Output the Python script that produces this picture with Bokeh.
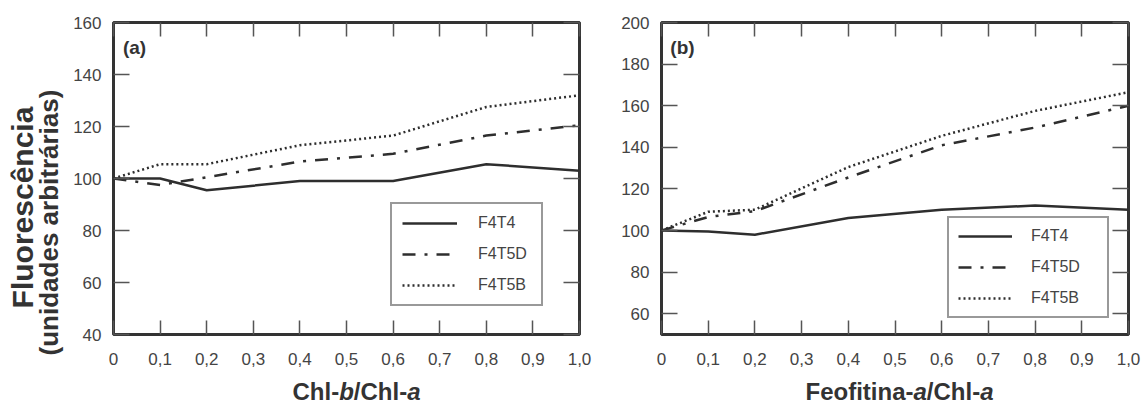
import numpy as np
from bokeh.plotting import figure
from bokeh.models import (FixedTicker, LinearAxis, Range1d, Legend, LegendItem, Label)
from bokeh.layouts import row, column
from bokeh.embed import file_html
from bokeh.resources import INLINE

# ---- data ----
x_vals = [0.0, 0.1, 0.2, 0.4, 0.6, 0.8, 1.0]
series_names = ["F4T4", "F4T5D", "F4T5B"]

a_f4t4 = [100, 100, 95.5, 99, 99, 105.5, 103]
a_f4t5d = [100, 97.5, 100.5, 106.5, 109.5, 116.5, 120.5]
a_f4t5b = [100, 105.5, 105.5, 112.8, 116.5, 127.5, 132]

b_f4t4 = [100, 99.5, 98, 106, 110, 112, 110]
b_f4t5d = [100, 106.5, 109.3, 125.5, 141, 149.5, 160]
b_f4t5b = [100, 109, 110, 130.5, 145.5, 157.5, 166.5]

x_ticks = [0.0, 0.1, 0.2, 0.3, 0.4, 0.5, 0.6, 0.7, 0.8, 0.9, 1.0]
x_tick_labels = ["0", "0,1", "0,2", "0,3", "0,4", "0,5", "0,6", "0,7", "0,8", "0,9", "1,0"]
a_y_ticks = [40, 60, 80, 100, 120, 140, 160]
b_y_ticks = [60, 80, 100, 120, 140, 160, 180, 200]

y_title_lines = ["Fluorescência", "(unidades arbitrárias)"]
a_x_title = [("Chl-", "bold"), ("b", "bold italic"), ("/Chl-", "bold"), ("a", "bold italic")]
b_x_title = [("Feofitina-", "bold"), ("a", "bold italic"), ("/Chl-", "bold"), ("a", "bold italic")]

FONT = "Liberation Sans"
DARK = "#2e2e2e"
TICKC = "#555555"
LABC = "#444444"
TITLEC = "#333333"

YT_W = 70
PA_W = 530
PB_W = 545
PLOT_H = 374
XT_H = 406 - PLOT_H


def text_fig(width, height):
    f = figure(width=width, height=height, x_range=Range1d(0, 1), y_range=Range1d(0, 1),
               output_backend="svg", toolbar_location=None,
               x_axis_location=None, y_axis_location=None,
               min_border_left=0, min_border_right=0, min_border_top=0, min_border_bottom=0)
    f.xgrid.visible = False
    f.ygrid.visible = False
    f.outline_line_color = None
    f.background_fill_color = "white"
    f.border_fill_color = "white"
    return f


def make_panel(width, bl, br, yr, yticks, ys, tag, legend_loc, legend_pad, label_standoff, glyph_w, label_w):
    p = figure(width=width, height=PLOT_H, x_range=Range1d(0, 1), y_range=Range1d(*yr),
               output_backend="svg", toolbar_location=None,
               min_border_left=bl, min_border_right=br, min_border_top=22, min_border_bottom=PLOT_H - 334)
    p.xgrid.visible = False
    p.ygrid.visible = False
    p.outline_line_color = "#333333"
    p.outline_line_width = 3
    p.background_fill_color = "white"
    p.border_fill_color = "white"

    xa = p.xaxis[0]
    xa.ticker = FixedTicker(ticks=x_ticks, minor_ticks=[])
    xa.major_label_overrides = {t: l for t, l in zip(x_ticks, x_tick_labels)}
    xa.major_tick_in = 14
    xa.major_tick_out = 0
    xa.major_label_standoff = 18
    ya = p.yaxis[0]
    ya.ticker = FixedTicker(ticks=yticks, minor_ticks=[])
    ya.major_tick_in = 16
    ya.major_tick_out = 0
    ya.major_label_standoff = 12
    for ax in (xa, ya):
        ax.axis_line_color = None
        ax.major_tick_line_color = TICKC
        ax.major_tick_line_width = 1.5
        ax.minor_tick_line_color = None
        ax.major_label_text_font = FONT
        ax.major_label_text_font_size = "17px"
        ax.major_label_text_color = LABC

    top = LinearAxis(ticker=FixedTicker(ticks=x_ticks, minor_ticks=[]), major_tick_in=14, major_tick_out=0,
                     major_label_text_color=None, major_label_standoff=0,
                     axis_line_color=None, major_tick_line_color=TICKC, major_tick_line_width=1.5,
                     minor_tick_line_color=None)
    right = LinearAxis(ticker=FixedTicker(ticks=yticks, minor_ticks=[]), major_tick_in=16, major_tick_out=0,
                       major_label_text_color=None, major_label_standoff=0,
                       axis_line_color=None, major_tick_line_color=TICKC, major_tick_line_width=1.5,
                       minor_tick_line_color=None)
    p.add_layout(top, "above")
    p.add_layout(right, "right")

    r1 = p.line(x_vals, ys[0], line_color=DARK, line_width=2.5)
    r2 = p.line(x_vals, ys[1], line_color=DARK, line_width=2.5, line_dash="13 9 3 9")
    r3 = p.line(x_vals, ys[2], line_color=DARK, line_width=2.5, line_dash="2 3")

    items = [LegendItem(label=n, renderers=[r]) for n, r in zip(series_names, (r1, r2, r3))]
    legend = Legend(items=items, location=legend_loc, orientation="vertical",
                    padding=legend_pad, spacing=13, glyph_width=glyph_w, glyph_height=18,
                    label_standoff=label_standoff, label_width=label_w, label_height=18,
                    label_text_font=FONT, label_text_font_size="16px", label_text_color=LABC,
                    border_line_color="#333333", border_line_width=2.5,
                    background_fill_color="white", background_fill_alpha=1.0, margin=0)
    p.add_layout(legend)

    p.add_layout(Label(x=21, y=287, x_units="screen", y_units="screen", text=tag,
                       text_font=FONT, text_font_style="bold", text_font_size="19px",
                       text_color=TITLEC, text_align="center", text_baseline="middle"))
    return p


# widths at bold (Arial metrics), em units
CHARW = {"C": 0.722, "h": 0.611, "l": 0.278, "-": 0.333, "b": 0.611, "/": 0.278, "a": 0.556,
         "F": 0.611, "e": 0.556, "o": 0.611, "f": 0.333, "i": 0.278, "t": 0.333, "n": 0.611}


def x_title_fig(width, start, parts, size=24):
    f = text_fig(width, XT_H)
    x = start
    for txt, style in parts:
        f.add_layout(Label(x=x, y=15, x_units="screen", y_units="screen", text=txt,
                           text_font=FONT, text_font_style=style, text_font_size=f"{size}px",
                           text_color=TITLEC, text_align="left", text_baseline="alphabetic"))
        x += sum(CHARW[c] for c in txt) * size
    return f


pa = make_panel(PA_W, 112 - YT_W, 21, (40, 160), a_y_ticks, (a_f4t4, a_f4t5d, a_f4t5b), "(a)",
                (277, 28), 10, 21, 55, 53)
pb = make_panel(PB_W, 61, 17, (50, 200), b_y_ticks, (b_f4t4, b_f4t5d, b_f4t5b), "(b)",
                (286, 16), 9, 19, 54, 67)

xa_fig = x_title_fig(PA_W, 292 - YT_W, a_x_title)
xb_fig = x_title_fig(PB_W, 805 - 600, b_x_title)

yt = text_fig(YT_W, 406)
yt.add_layout(Label(x=22, y=406 - 207, x_units="screen", y_units="screen", text=y_title_lines[0],
                    text_font=FONT, text_font_style="bold", text_font_size="30px",
                    text_color=TITLEC, text_align="center", text_baseline="middle", angle=np.pi / 2))
yt.add_layout(Label(x=48, y=406 - 222, x_units="screen", y_units="screen", text=y_title_lines[1],
                    text_font=FONT, text_font_style="bold", text_font_size="26px",
                    text_color=TITLEC, text_align="center", text_baseline="middle", angle=np.pi / 2))

layout = row(yt, column(row(pa, pb), row(xa_fig, xb_fig)))
open("out.html", "w").write(file_html(layout, INLINE))
